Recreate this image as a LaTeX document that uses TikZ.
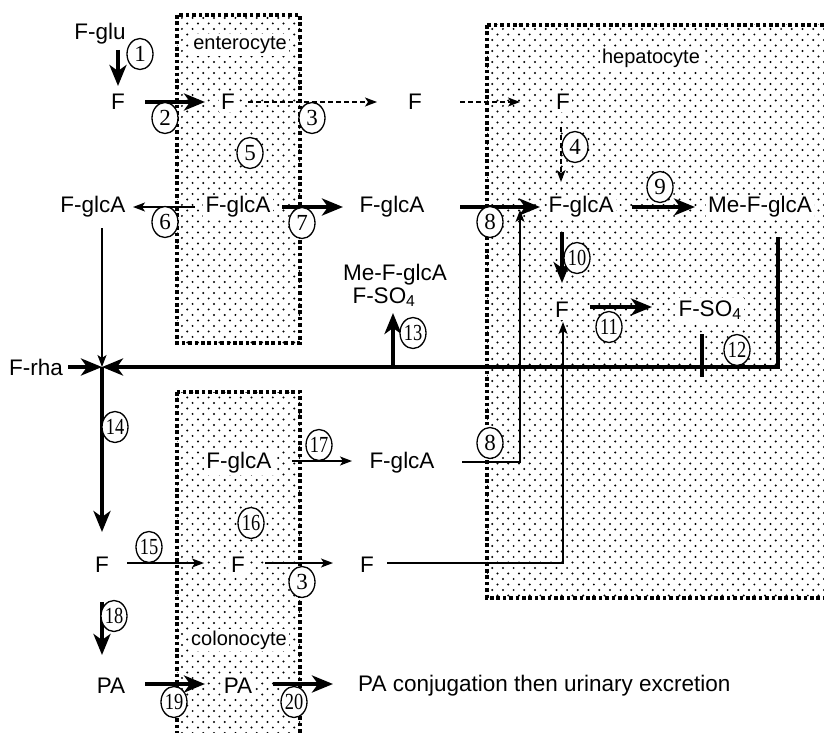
\documentclass[tikz,border=0pt]{standalone}
\usepackage{fontspec}
\usepackage{graphicx}
\setmainfont{Liberation Sans}
\newfontfamily\numfont{Liberation Serif}
\usetikzlibrary{arrows.meta,shapes.geometric,patterns,calc}
\pgfdeclarepatternformonly{celldots}{\pgfqpoint{-2pt}{-2pt}}{\pgfqpoint{12pt}{12pt}}{\pgfqpoint{10.7pt}{11pt}}{%
  \pgfpathcircle{\pgfqpoint{0pt}{0pt}}{1.1pt}%
  \pgfpathcircle{\pgfqpoint{5.35pt}{5.5pt}}{1.1pt}%
  \pgfusepath{fill}}
\newcommand{\nbone}[1]{\makebox[0pt]{#1}}
\newcommand{\nbtwo}[1]{\makebox[0pt]{\scalebox{0.8}[1]{#1}}}

\begin{document}
\begin{tikzpicture}[x=1pt, y=-1pt,
  sp/.style={fill=white, inner sep=2pt, font=\fontsize{22.5}{26}\selectfont},
  cl/.style={fill=white, inner sep=2pt, font=\fontsize{20}{24}\selectfont},
  num/.style={ellipse, draw, line width=1.3pt, fill=white, minimum width=26pt,
              minimum height=31pt, inner sep=0pt, font=\numfont\fontsize{23}{23}\selectfont},
  cellbox/.style={pattern=celldots, line width=3.6pt, dash pattern=on 3.6pt off 2.8pt},
  thk/.style={line width=4pt, -{Stealth[length=21pt,width=17pt,inset=6pt]}},
  thn/.style={line width=1.5pt, -{Stealth[length=12pt,width=9pt,inset=3pt]}},
  dsh/.style={thn, dash pattern=on 5pt off 3pt}]
\useasboundingbox (0,0) rectangle (824,733);

% cells
\draw[cellbox] (177,15) rectangle (300,343);
\draw[cellbox] (177,392) rectangle (300,760);
\draw[cellbox] (487,25) rectangle (860,598);
\node[cl] (ent) at (240,45) {enterocyte};
\node[cl] (hep) at (651,58) {hepatocyte};
\node[cl] (col) at (239,640) {colonocyte};

% species
\node[sp] (fglu) at (100,34) {F-glu};
\node[sp] (f1) at (118,102) {F};
\node[sp] (f2) at (228,102) {F};
\node[sp] (f3) at (415,102) {F};
\node[sp] (f4) at (563,102) {F};
\node[sp] (g1) at (93,207) {F-glcA};
\node[sp] (g2) at (238,207) {F-glcA};
\node[sp] (g3) at (392,207) {F-glcA};
\node[sp] (g4) at (581,207) {F-glcA};
\node[sp] (mg) at (760,207) {Me-F-glcA};
\node[sp] (f5) at (562,310) {F};
\node[sp] (so) at (710,310) {F-SO\textsubscript{4}};
\node[sp] (out1) at (395,275) {Me-F-glcA};
\node[sp] (out2) at (384,297) {F-SO\textsubscript{4}};
\node[sp] (frha) at (36,367) {F-rha};
\coordinate (jn) at (102,367);
\node[sp] (gc) at (239,463) {F-glcA};
\node[sp] (gm) at (402,463) {F-glcA};
\node[sp] (f6) at (102,565) {F};
\node[sp] (f7) at (238,565) {F};
\node[sp] (f8) at (367,565) {F};
\node[sp] (pa1) at (111,686) {PA};
\node[sp] (pa2) at (238,686) {PA};
\node[sp, anchor=west] (pac) at (356,686) {PA conjugation then urinary excretion};

% fluxes
\draw[thk] ($(fglu)+(18,16)$) -- ($(f1)+(0,-16)$);
\draw[thk] ($(f1)+(27,0)$) -- ($(f2)+(-23,0)$);
\draw[dsh] ($(f2)+(20,0)$) -- ($(f3)+(-38,0)$);
\draw[dsh] ($(f3)+(45,0)$) -- ($(f4)+(-43,0)$);
\draw[dsh] ($(f4)+(-2,25)$) -- ($(g4)+(-20,-25)$);
\draw[thn] ($(g2)+(-43,0)$) -- ($(g1)+(40,0)$);
\draw[thk] ($(g2)+(44,0)$) -- ($(g3)+(-49,0)$);
\draw[thk] ($(g3)+(68,0)$) -- ($(g4)+(-41,0)$);
\draw[thk] ($(g4)+(51,0)$) -- ($(mg)+(-65,0)$);
\draw[thk] ($(g4)+(-19,25)$) -- ($(f5)+(0,-27)$);
\draw[thk] ($(f5)+(28,-3)$) -- ($(so)+(-58,-3)$);
\draw[thk] ($(mg)+(18,30)$) |- (jn);
\draw[line width=4pt] ($(so)+(-8,24)$) -- ++(0,43);
\draw[thk] ($(out2)+(9,70)$) -- ($(out2)+(9,16)$);
\draw[thk] ($(frha)+(32,0)$) -- (jn);
\draw[thn] ($(g1)+(9,21)$) -- (jn);
\draw[thk] (jn) -- ($(f6)+(0,-33)$);
\draw[thn] ($(f6)+(25,-2)$) -- ($(f7)+(-34,-2)$);
\draw[thn] ($(f7)+(27,-2)$) -- ($(f8)+(-34,-2)$);
\draw[thn] ($(f8)+(20,-2)$) -| ($(f5)+(1,12)$);
\draw[thn] ($(gc)+(53,-2)$) -- ($(gm)+(-50,-2)$);
\draw[thn] ($(gm)+(60,-1)$) -| ($(g4)+(-61,3)$);
\draw[thk] ($(f6)+(0,37)$) -- ($(pa1)+(-9,-31)$);
\draw[thk] ($(pa1)+(34,-2)$) -- ($(pa2)+(-33,-2)$);
\draw[thk] ($(pa2)+(35,-2)$) -- ($(pac.west)+(-23,-2)$);

% step numbers
\node[num] (s1) at (140,54) {\nbone{1}};
\node[num] (s2) at (165,118) {\nbone{2}};
\node[num] (s3a) at (312,118) {\nbone{3}};
\node[num] (s4) at (575,147) {\nbone{4}};
\node[num] (s5) at (250,153) {\nbone{5}};
\node[num] (s6) at (165,222) {\nbone{6}};
\node[num] (s7) at (302,223) {\nbone{7}};
\node[num] (s8a) at (490,222) {\nbone{8}};
\node[num] (s9) at (660,187) {\nbone{9}};
\node[num] (s10) at (577,258) {\nbtwo{10}};
\node[num] (s11) at (609,327) {\nbtwo{11}};
\node[num] (s12) at (737,350) {\nbtwo{12}};
\node[num] (s13) at (413,333) {\nbtwo{13}};
\node[num] (s14) at (115,427) {\nbtwo{14}};
\node[num] (s17) at (319,445) {\nbtwo{17}};
\node[num] (s8b) at (490,443) {\nbone{8}};
\node[num] (s16) at (251,523) {\nbtwo{16}};
\node[num] (s15) at (149,547) {\nbtwo{15}};
\node[num] (s3b) at (302,582) {\nbone{3}};
\node[num] (s18) at (114,616) {\nbtwo{18}};
\node[num] (s19) at (174,702) {\nbtwo{19}};
\node[num] (s20) at (294,702) {\nbtwo{20}};
\end{tikzpicture}
\end{document}
